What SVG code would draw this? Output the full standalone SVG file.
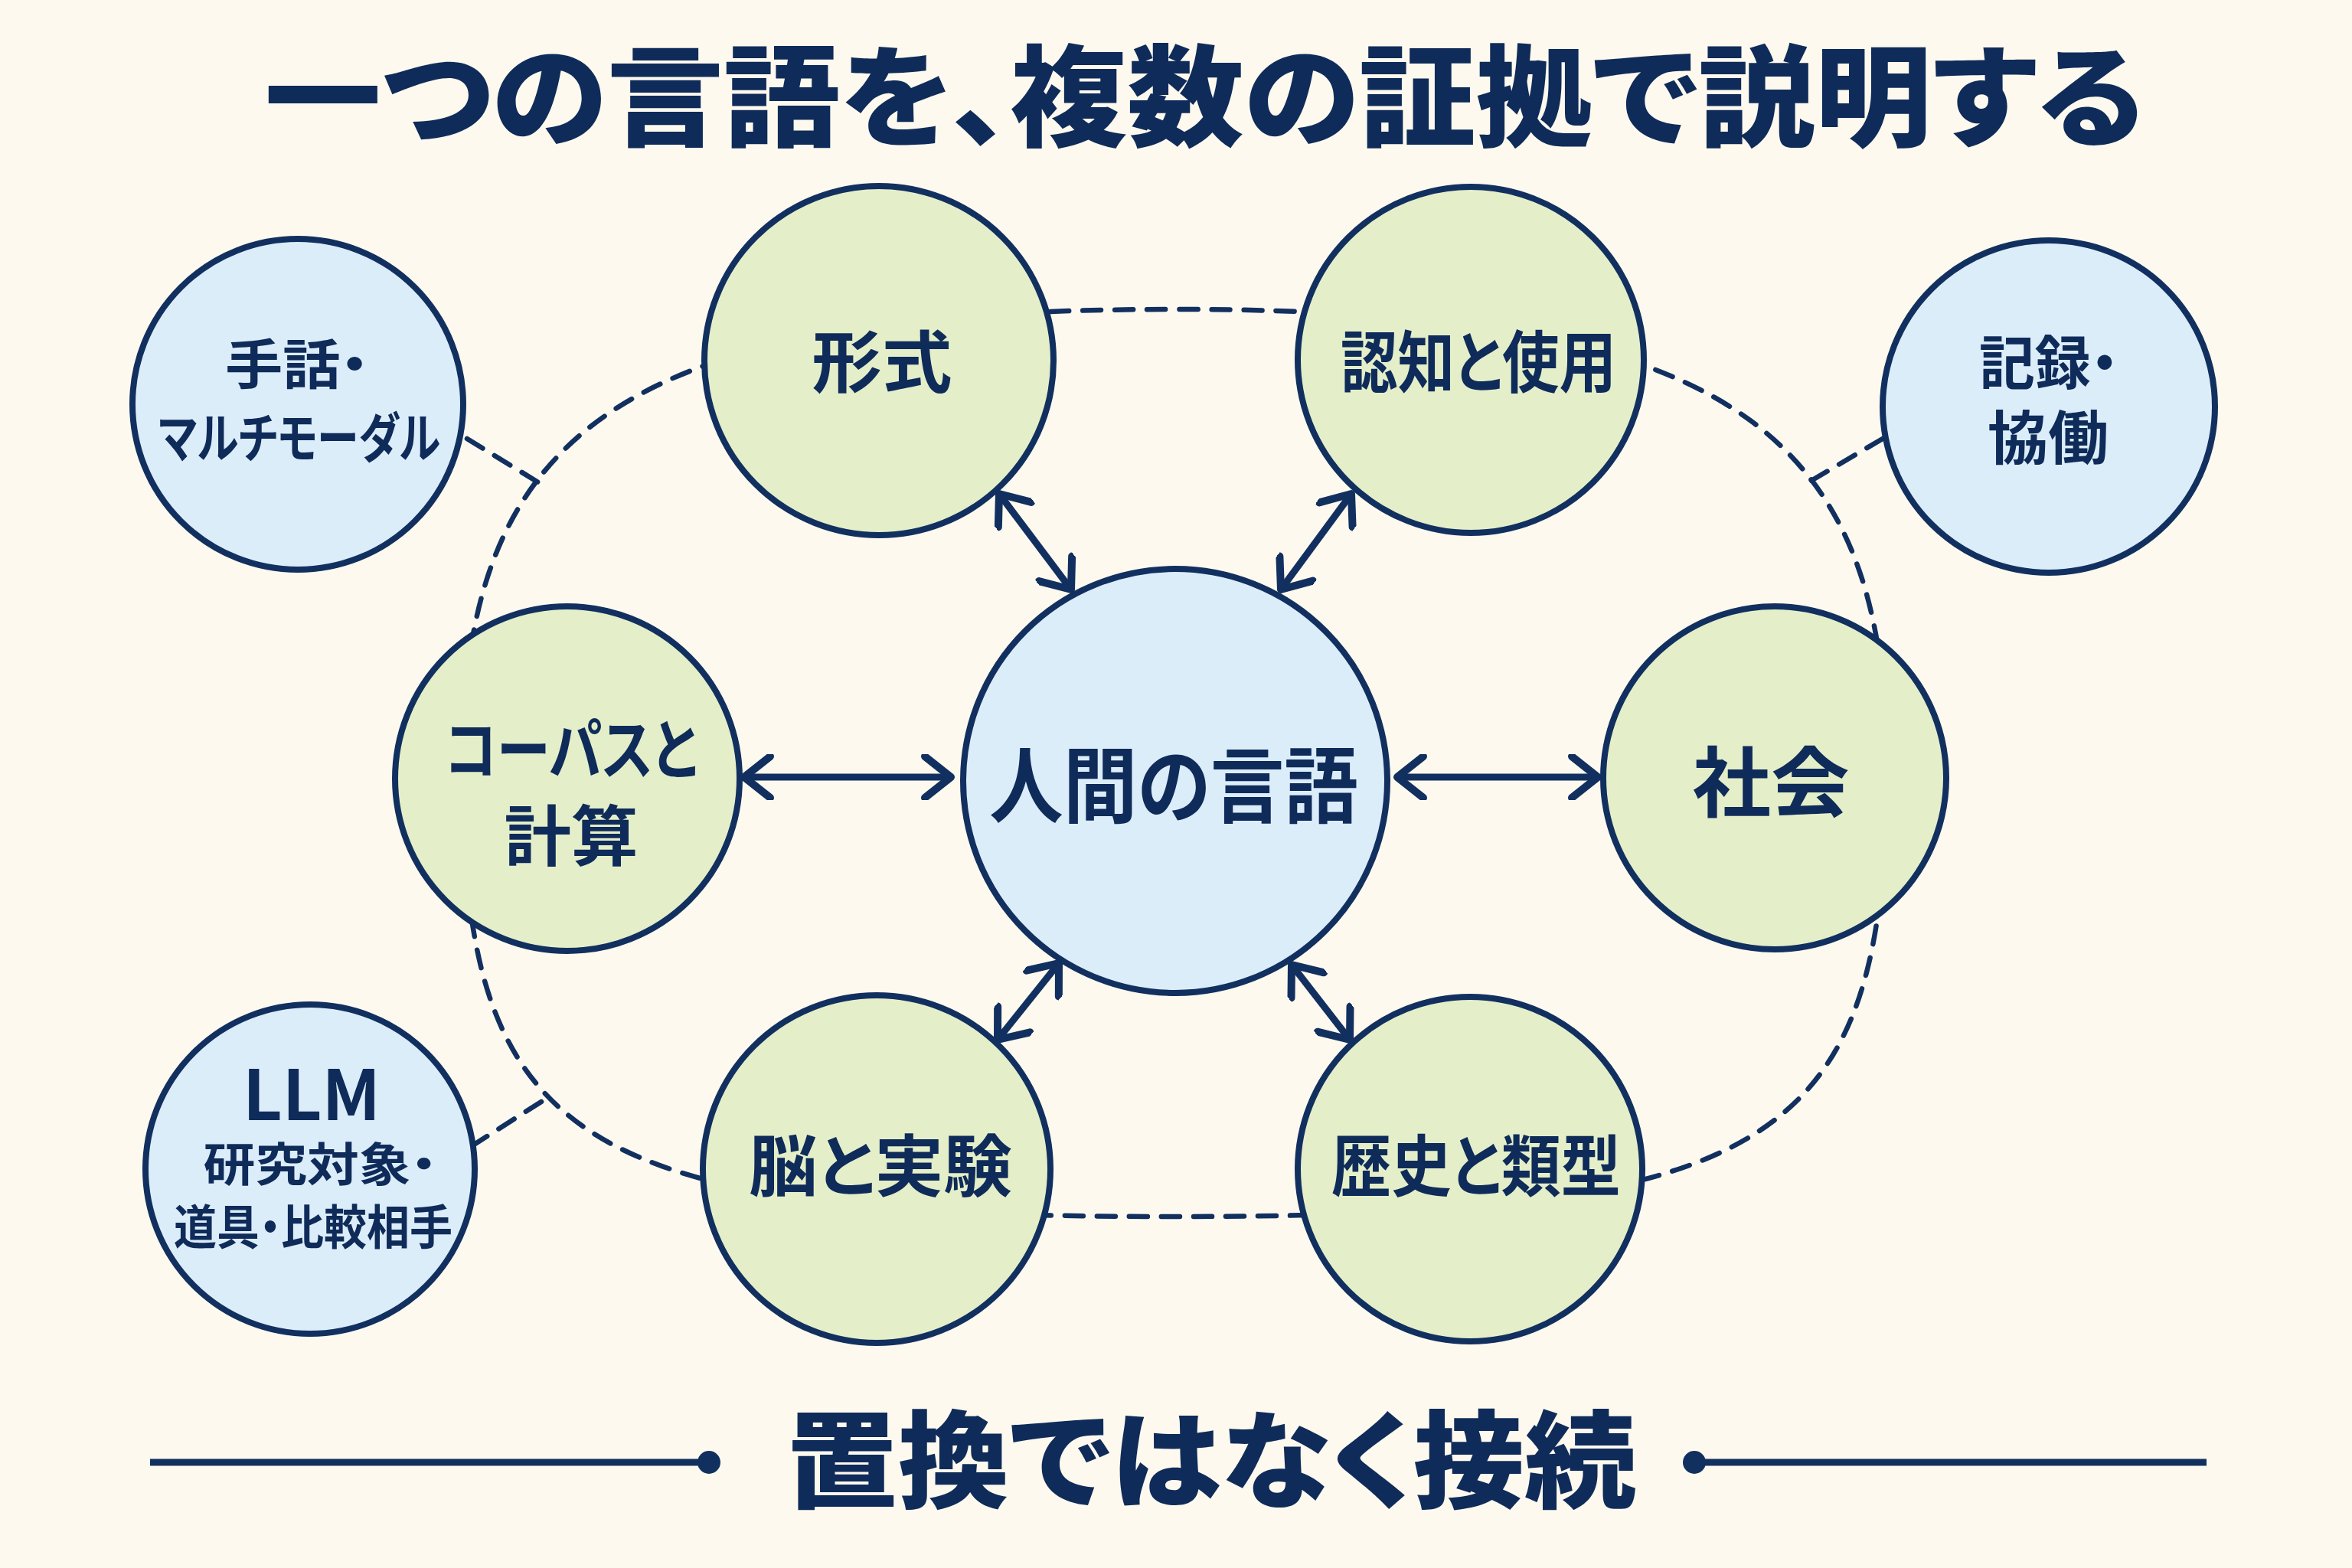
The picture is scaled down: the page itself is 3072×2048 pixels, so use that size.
<svg xmlns="http://www.w3.org/2000/svg" width="3072" height="2048" viewBox="0 0 3072 2048">
<defs>
<style>
.bg{fill:#FDF9EE}
.t{font-family:"Noto Sans CJK JP","Noto Sans",sans-serif;fill:#0F2B59;text-anchor:middle;font-weight:700;font-feature-settings:"palt"}
.h{font-weight:900}
.green{fill:#E4EFC9;stroke:#12305F;stroke-width:8}
.blue{fill:#DCEDFA;stroke:#12305F;stroke-width:8}
.dash{fill:none;stroke:#12305F;stroke-width:6.5;stroke-dasharray:24 18;stroke-linecap:round}
.arrow{fill:none;stroke:#12305F;stroke-width:9;marker-start:url(#head);marker-end:url(#head)}
.rule{stroke:#12305F;stroke-width:9;fill:none}
</style>
<marker id="head" viewBox="0 0 60 60" markerUnits="userSpaceOnUse" markerWidth="60" markerHeight="60" refX="46" refY="30" orient="auto-start-reverse">
<path d="M12 3 L46 30 L12 57" fill="none" stroke="#12305F" stroke-width="10" stroke-linecap="round" stroke-linejoin="round"/>
</marker>
</defs>
<rect class="bg" x="0" y="0" width="3072" height="2048"/>

<text class="t h" x="1573" y="180" font-size="144" textLength="2455" lengthAdjust="spacingAndGlyphs">一つの言語を、複数の証拠で説明する</text>

<g id="ring">
<path class="dash" d="M2464 1000 C2464 1496 2317 1589 1534 1589 C751 1589 604 1496 604 1000 C604 550 830 404 1534 404 C2238 404 2464 550 2464 1000 Z"/>
</g>

<g id="connectors">
<line class="dash" x1="610" y1="573" x2="703" y2="630"/>
<line class="dash" x1="2459" y1="573" x2="2362" y2="630"/>
<line class="dash" x1="616" y1="1497" x2="721" y2="1430"/>
<line class="arrow" x1="1305" y1="645" x2="1399" y2="770"/>
<line class="arrow" x1="1765" y1="645" x2="1673" y2="770"/>
<line class="arrow" x1="972" y1="1015" x2="1242" y2="1015"/>
<line class="arrow" x1="1825" y1="1015" x2="2087" y2="1015"/>
<line class="arrow" x1="1383" y1="1258" x2="1303" y2="1358"/>
<line class="arrow" x1="1687" y1="1260" x2="1763" y2="1358"/>
</g>

<g id="node-center">
<circle class="blue" cx="1535" cy="1020" r="277"/>
<text class="t" x="1533" y="1066" font-size="108" textLength="482" lengthAdjust="spacingAndGlyphs">人間の言語</text>
</g>

<g id="node-keishiki">
<circle class="green" cx="1148" cy="471" r="228"/>
<text class="t" x="1152" y="505" font-size="88" textLength="183" lengthAdjust="spacingAndGlyphs">形式</text>
</g>

<g id="node-ninchi">
<circle class="green" cx="1921" cy="470" r="226"/>
<text class="t" x="1931" y="505" font-size="88" textLength="360" lengthAdjust="spacingAndGlyphs">認知と使用</text>
</g>

<g id="node-corpus">
<circle class="green" cx="741" cy="1017" r="225"/>
<text class="t" x="746" y="1011" font-size="86" textLength="330" lengthAdjust="spacingAndGlyphs">コーパスと</text>
<text class="t" x="746" y="1124" font-size="86" textLength="175" lengthAdjust="spacingAndGlyphs">計算</text>
</g>

<g id="node-shakai">
<circle class="green" cx="2318" cy="1016" r="224"/>
<text class="t" x="2313" y="1059" font-size="100" textLength="205" lengthAdjust="spacingAndGlyphs">社会</text>
</g>

<g id="node-nou">
<circle class="green" cx="1145" cy="1527" r="227"/>
<text class="t" x="1150" y="1555" font-size="88" textLength="344" lengthAdjust="spacingAndGlyphs">脳と実験</text>
</g>

<g id="node-rekishi">
<circle class="green" cx="1920" cy="1527" r="225"/>
<text class="t" x="1928" y="1555" font-size="88" textLength="378" lengthAdjust="spacingAndGlyphs">歴史と類型</text>
</g>

<g id="node-shuwa">
<circle class="blue" cx="389" cy="528" r="216"/>
<text class="t" x="388" y="502" font-size="70" textLength="188" lengthAdjust="spacingAndGlyphs">手話・</text>
<text class="t" x="391" y="598" font-size="70" textLength="368" lengthAdjust="spacingAndGlyphs">マルチモーダル</text>
</g>

<g id="node-kiroku">
<circle class="blue" cx="2676" cy="531" r="217"/>
<text class="t" x="2676" y="502" font-size="76" textLength="182" lengthAdjust="spacingAndGlyphs">記録・</text>
<text class="t" x="2675" y="600" font-size="76" textLength="158" lengthAdjust="spacingAndGlyphs">協働</text>
</g>

<g id="node-llm">
<circle class="blue" cx="405" cy="1527" r="215"/>
<text class="t" x="407" y="1463" font-size="90" textLength="180" lengthAdjust="spacingAndGlyphs">LLM</text>
<text class="t" x="418" y="1543" font-size="60" textLength="305" lengthAdjust="spacingAndGlyphs">研究対象・</text>
<text class="t" x="409" y="1626" font-size="62" textLength="364" lengthAdjust="spacingAndGlyphs">道具・比較相手</text>
</g>

<g id="footer">
<line class="rule" x1="196" y1="1910" x2="926" y2="1910"/>
<circle cx="926" cy="1910" r="15" fill="#12305F"/>
<line class="rule" x1="2213" y1="1910" x2="2882" y2="1910"/>
<circle cx="2213" cy="1910" r="15" fill="#12305F"/>
<text class="t h" x="1582" y="1958" font-size="138" textLength="1110" lengthAdjust="spacingAndGlyphs">置換ではなく接続</text>
</g>
</svg>
